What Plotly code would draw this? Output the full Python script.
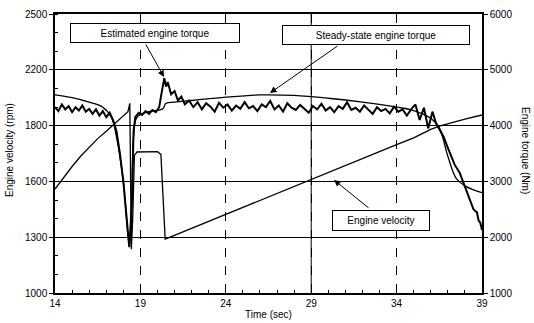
import plotly.graph_objects as go

# ---- data ----
vel_t = [14.0, 14.5, 15.0, 15.5, 16.0, 16.5, 17.0, 17.5, 18.0, 18.27, 18.38, 18.42, 18.47,
         18.55, 18.65, 18.8, 19.5, 20.0, 20.2, 20.45, 20.6, 21.0, 22.0, 23.0, 24.0, 25.0,
         26.0, 27.0, 28.0, 29.0, 30.0, 31.0, 32.0, 33.0, 34.0, 35.0, 36.0, 36.5, 37.0, 38.0, 39.0]
vel_rpm = [1559, 1620, 1680, 1735, 1785, 1830, 1870, 1910, 1950, 1975, 2020, 1500, 1235,
           1400, 1740, 1758, 1760, 1760, 1745, 1290, 1295, 1310, 1348, 1386, 1424, 1462,
           1500, 1538, 1576, 1614, 1651, 1688, 1725, 1762, 1798, 1834, 1880, 1897, 1910, 1935, 1957]

ss_t = [14.0, 15.0, 16.0, 16.8, 17.3, 17.6, 18.0, 18.35, 18.5, 18.6, 18.8, 19.5, 20.3, 20.5,
        21.0, 22.0, 24.0, 26.0, 28.0, 30.0, 32.0, 34.0, 35.0, 36.0, 36.5, 37.0, 37.5, 38.0, 38.5, 39.0]
ss_nm = [4550, 4500, 4420, 4330, 4150, 3800, 3000, 1850, 2700, 3800, 4150, 4250, 4300, 4400,
         4420, 4450, 4510, 4550, 4540, 4490, 4420, 4330, 4270, 4130, 3960, 3450, 3050, 2920, 2850, 2800]

est_t = [14.0, 14.2, 14.4, 14.6, 14.8, 15.0, 15.2, 15.4, 15.6, 15.8, 16.0, 16.2, 16.4, 16.6,
         16.8, 17.0, 17.2, 17.4, 17.6, 17.8, 18.0, 18.2, 18.35, 18.5, 18.6, 18.7, 18.9, 19.1,
         19.3, 19.5, 19.7, 19.9, 20.1, 20.25, 20.4, 20.5, 20.6, 20.8, 21.0, 21.2, 21.4, 21.6,
         21.85, 22.1, 22.35, 22.6, 22.85, 23.1, 23.35, 23.6, 23.85, 24.1, 24.35, 24.6, 24.85,
         25.1, 25.35, 25.6, 25.85, 26.1, 26.35, 26.6, 26.85, 27.1, 27.35, 27.6, 27.85, 28.1,
         28.35, 28.6, 28.85, 29.1, 29.35, 29.6, 29.85, 30.1, 30.35, 30.6, 30.85, 31.1, 31.35,
         31.6, 31.85, 32.1, 32.35, 32.6, 32.85, 33.1, 33.35, 33.6, 33.85, 34.1, 34.35, 34.6,
         34.85, 35.1, 35.35, 35.6, 35.85, 36.1, 36.3, 36.5, 36.75, 37.0, 37.2, 37.4, 37.7,
         38.0, 38.2, 38.4, 38.5, 38.6, 38.7, 38.8, 38.9, 39.0]
est_nm = [4330, 4260, 4380, 4290, 4350, 4240, 4330, 4270, 4360, 4250, 4300, 4210, 4290, 4180,
          4260, 4150, 4230, 4100, 3900, 3500, 3000, 2300, 1820, 2600, 3900, 4150, 4230, 4190,
          4260, 4210, 4280, 4240, 4330, 4600, 4850, 4700, 4780, 4560, 4620, 4450, 4520, 4380,
          4450, 4330, 4420, 4290, 4400, 4340, 4250, 4410, 4320, 4380, 4270, 4360, 4300,
          4420, 4310, 4350, 4260, 4380, 4330, 4440, 4290, 4360, 4250, 4400, 4320, 4280,
          4370, 4300, 4230, 4350, 4290, 4390, 4270, 4330, 4240, 4350, 4300, 4420, 4280,
          4320, 4250, 4360, 4290, 4210, 4330, 4260, 4300, 4220, 4340, 4250, 4290, 4180,
          4290, 4380, 4100, 4320, 3950, 4250, 4050, 3950, 3800, 3600, 3450, 3300, 3150,
          2900, 2750, 2600, 2500, 2470, 2450, 2300, 2260, 2130]

x_ticks = [14, 19, 24, 29, 34, 39]
vel_tickvals = [1000, 1300, 1600, 1900, 2200, 2500]
vel_ticktext = ["1000", "1300", "1600", "1800", "2200", "2500"]
tq_ticks = [1000, 2000, 3000, 4000, 5000, 6000]

FONT = "Liberation Sans"

fig = go.Figure()
fig.add_trace(go.Scatter(x=vel_t, y=vel_rpm, mode="lines", yaxis="y",
                         line=dict(color="black", width=1.3), name="Engine velocity"))
fig.add_trace(go.Scatter(x=ss_t, y=ss_nm, mode="lines", yaxis="y2", line_shape="spline",
                         line=dict(color="black", width=1.3), name="Steady-state engine torque"))
fig.add_trace(go.Scatter(x=est_t, y=est_nm, mode="lines", yaxis="y2",
                         line=dict(color="black", width=2), name="Estimated engine torque"))

# plot area in pixels: x 55..482, y 14..293
W, H = 534, 323
L, R, T, B = 55, 482, 14, 293


def px(x):
    return (x - L) / (R - L)


def py(y):
    return (B - y) / (B - T)


annos = []
boxes = [("Estimated engine torque", 155, 33, 164, 14),
         ("Steady-state engine torque", 376, 35, 182, 14),
         ("Engine velocity", 381, 220, 92, 15)]
for txt, cx, cy, w, h in boxes:
    annos.append(dict(text=txt, x=px(cx), y=py(cy), xref="paper", yref="paper",
                      xanchor="center", yanchor="middle",
                      showarrow=False, width=w, height=h, bgcolor="white",
                      bordercolor="black", borderwidth=1, borderpad=2,
                      font=dict(family=FONT, size=10, color="black")))
arrows = [(145, 43, 164, 77), (339, 45, 270, 93), (370, 209, 334, 180)]
for x0, y0, x1, y1 in arrows:
    annos.append(dict(text="", x=px(x1), y=py(y1), xref="x domain", yref="y domain",
                      ax=px(x0), ay=py(y0), axref="x domain", ayref="y domain",
                      showarrow=True, arrowhead=2, arrowsize=1.3, arrowwidth=1,
                      arrowcolor="black"))
annos.append(dict(text="Engine velocity (rpm)", x=px(9), y=py(150), xref="paper", yref="paper",
                  xanchor="center", yanchor="middle", textangle=-90, showarrow=False,
                  font=dict(family=FONT, size=10, color="black")))
annos.append(dict(text="Engine torque (Nm)", x=px(526), y=py(150), xref="paper", yref="paper",
                  xanchor="center", yanchor="middle", textangle=90, showarrow=False,
                  font=dict(family=FONT, size=10, color="black")))
annos.append(dict(text="Time (sec)", x=px(268), y=py(314), xref="paper", yref="paper",
                  xanchor="center", yanchor="middle", showarrow=False,
                  font=dict(family=FONT, size=10, color="black")))

fig.update_layout(
    width=W, height=H,
    margin=dict(l=L, r=W - R, t=T, b=H - B, autoexpand=False),
    paper_bgcolor="white", plot_bgcolor="white",
    showlegend=False,
    font=dict(family=FONT, size=10, color="black"),
    annotations=annos,
    shapes=[dict(type="line", xref="x", yref="paper", x0=29, x1=29, y0=0, y1=1,
                 line=dict(color="black", width=1), layer="below")],
    xaxis=dict(range=[14, 39], tickvals=x_ticks, ticks="inside", ticklen=4,
               tickcolor="black", showline=True, linecolor="black", linewidth=1.5,
               mirror=True, showgrid=True, gridcolor="black", gridwidth=1,
               griddash="dash", zeroline=False, automargin=False,
               minor=dict(dtick=1, ticks="inside", ticklen=3, tickcolor="black",
                          showgrid=False),
               tickfont=dict(family=FONT, size=10, color="black")),
    yaxis=dict(range=[1000, 2500], tickvals=vel_tickvals, ticktext=vel_ticktext,
               ticks="outside", ticklen=4, tickcolor="black", showline=True,
               linecolor="black", linewidth=1.5, showgrid=True, gridcolor="black",
               gridwidth=1, zeroline=False, automargin=False,
               minor=dict(dtick=100, ticks="inside", ticklen=3, tickcolor="black",
                          showgrid=False),
               tickfont=dict(family=FONT, size=10, color="black")),
    yaxis2=dict(range=[1000, 6000], tickvals=tq_ticks, overlaying="y", side="right",
                ticks="outside", ticklen=4, tickcolor="black", showline=True,
                linecolor="black", linewidth=1.5, showgrid=False, zeroline=False,
                automargin=False,
                tickfont=dict(family=FONT, size=10, color="black")),
)

fig.write_html("out.html")
